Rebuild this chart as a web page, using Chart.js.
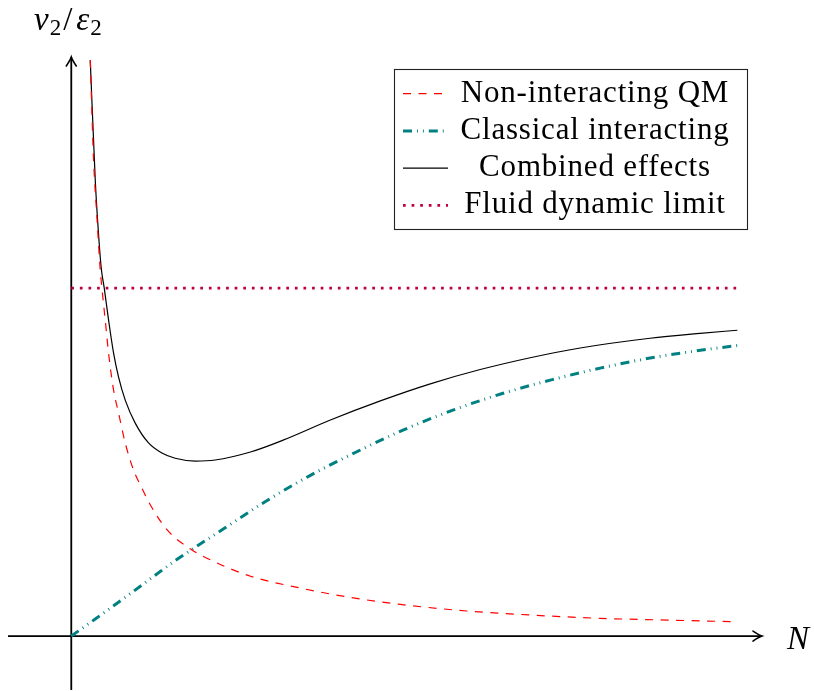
<!DOCTYPE html>
<html>
<head>
<meta charset="utf-8">
<script src="https://cdn.jsdelivr.net/npm/chart.js@4.4.1/dist/chart.umd.min.js"></script>
<style>
html,body{margin:0;padding:0;background:#fff;}
#wrap{width:814px;height:691px;position:relative;}
</style>
</head>
<body>
<div id="wrap"><canvas id="chart"></canvas></div>
<script>
/* =========================
   DATA
========================= */

// non-interacting QM (falls off roughly like 1/N)
const qmN = [0.285, 0.335, 0.385, 0.435, 0.46, 0.51, 0.56, 0.635, 0.71, 0.81, 0.935, 1.06, 1.19, 1.44, 1.79, 2.19, 2.69, 3.44, 4.19, 4.94, 5.94, 6.94, 7.94, 8.94, 10];
const qmV = [1.655, 1.368, 1.204, 1.052, 1.0, 0.908, 0.813, 0.707, 0.641, 0.555, 0.477, 0.425, 0.376, 0.305, 0.250, 0.210, 0.172, 0.138, 0.111, 0.091, 0.072, 0.060, 0.051, 0.046, 0.041];

// classical interacting (rises from 0, saturates)
const clN = [0, 0.36, 0.93, 1.6, 2.27, 2.91, 3.59, 4.29, 4.98, 5.74, 6.47, 7.22, 7.94, 8.69, 9.47, 10];
const clV = [0, 0.049, 0.128, 0.222, 0.306, 0.386, 0.462, 0.530, 0.592, 0.650, 0.697, 0.737, 0.770, 0.799, 0.822, 0.835];

// combined effects
const combN = [0.285, 0.36, 0.405, 0.45, 0.495, 0.56, 0.635, 0.71, 0.81, 0.96, 1.16, 1.36, 1.56, 1.86, 2.16, 2.69, 3.18, 3.89, 4.64, 5.39, 6.14, 6.89, 7.64, 8.69, 9.44, 10];
const combV = [1.655, 1.310, 1.167, 1.057, 1.0, 0.908, 0.813, 0.744, 0.678, 0.612, 0.555, 0.526, 0.511, 0.503, 0.506, 0.529, 0.563, 0.621, 0.676, 0.725, 0.766, 0.800, 0.828, 0.856, 0.870, 0.879];

// fluid dynamic limit
const fluidN = [0, 10];
const fluidV = [1, 1];

const labels = ["Non-interacting QM", "Classical interacting", "Combined effects", "Fluid dynamic limit"];

const pts = (xs, ys) => xs.map((x, i) => ({x: x, y: ys[i]}));

const SERIF = "'Liberation Serif', 'DejaVu Serif', serif";

/* =========================
   AXES WITH ARROWS
========================= */

const arrowAxes = {
  id: 'arrowAxes',
  beforeDatasetsDraw(chart) {
    const {ctx, chartArea: a, scales: {x, y}} = chart;
    const x0 = x.getPixelForValue(0);
    const y0 = y.getPixelForValue(0);
    ctx.save();
    ctx.strokeStyle = '#000';
    ctx.lineWidth = 1.8;
    ctx.lineCap = 'butt';
    ctx.beginPath();
    ctx.moveTo(a.left, y0);
    ctx.lineTo(a.right - 2, y0);
    ctx.moveTo(x0, a.bottom);
    ctx.lineTo(x0, a.top + 2);
    ctx.stroke();

    // arrow heads
    ctx.lineWidth = 1.6;
    ctx.lineCap = 'round';
    const tx = a.right - 2;
    ctx.beginPath();
    ctx.moveTo(tx - 9, y0 - 5);
    ctx.quadraticCurveTo(tx - 3, y0 - 1, tx, y0);
    ctx.quadraticCurveTo(tx - 3, y0 + 1, tx - 9, y0 + 5);
    const ty = a.top + 2;
    ctx.moveTo(x0 - 5, ty + 9);
    ctx.quadraticCurveTo(x0 - 1, ty + 3, x0, ty);
    ctx.quadraticCurveTo(x0 + 1, ty + 3, x0 + 5, ty + 9);
    ctx.stroke();

    // axis labels
    ctx.fillStyle = '#000';
    ctx.textBaseline = 'alphabetic';
    ctx.textAlign = 'left';
    ctx.font = 'italic 33px ' + SERIF;
    ctx.fillText('N', 787, 649);

    let cx = 34;
    const base = 30;
    ctx.font = 'italic 33px ' + SERIF;
    ctx.fillText('v', cx, base);
    cx += ctx.measureText('v').width + 1;
    ctx.font = '23px ' + SERIF;
    ctx.fillText('2', cx, base + 5);
    cx += ctx.measureText('2').width + 2;
    ctx.font = '33px ' + SERIF;
    ctx.fillText('/', cx, base);
    cx += ctx.measureText('/').width + 4;
    ctx.font = 'italic 33px ' + SERIF;
    ctx.fillText('\u03b5', cx, base);
    cx += ctx.measureText('\u03b5').width + 1;
    ctx.font = '23px ' + SERIF;
    ctx.fillText('2', cx, base + 5);
    ctx.restore();
  }
};

/* =========================
   LEGEND BOX
========================= */

const legendBox = {
  id: 'legendBox',
  afterDatasetsDraw(chart) {
    const ctx = chart.ctx;
    ctx.save();
    ctx.fillStyle = '#fff';
    ctx.fillRect(394.5, 69.5, 353, 160);
    ctx.strokeStyle = '#222';
    ctx.lineWidth = 1.1;
    ctx.strokeRect(394.5, 69.5, 353, 160);

    ctx.font = '31px ' + SERIF;
    ctx.textAlign = 'center';
    ctx.textBaseline = 'alphabetic';
    if ('letterSpacing' in ctx) ctx.letterSpacing = '0.8px';

    chart.data.datasets.forEach((ds, i) => {
      const base = 101.7 + i * 37.2;
      const ly = base - 8;
      ctx.save();
      ctx.strokeStyle = ds.borderColor;
      ctx.lineWidth = ds.borderWidth;
      ctx.setLineDash(ds.borderDash || []);
      ctx.lineCap = 'butt';
      ctx.beginPath();
      ctx.moveTo(403, ly);
      ctx.lineTo(448, ly);
      ctx.stroke();
      ctx.restore();
      ctx.fillStyle = '#000';
      ctx.fillText(ds.label, 595, base);
    });
    ctx.restore();
  }
};

/* =========================
   CHART
========================= */

new Chart(document.getElementById("chart"), {
  type: "line",
  data: {
    datasets: [{
      label: labels[0],
      data: pts(qmN, qmV),
      borderColor: "#ff0000",
      borderWidth: 1.2,
      borderDash: [8, 7.5]
    }, {
      label: labels[1],
      data: pts(clN, clV),
      borderColor: "#008080",
      borderWidth: 3,
      borderDash: [9, 5, 0.9, 5, 0.9, 5]
    }, {
      label: labels[2],
      data: pts(combN, combV),
      borderColor: "#000000",
      borderWidth: 1.2
    }, {
      label: labels[3],
      data: pts(fluidN, fluidV),
      borderColor: "#bf0040",
      borderWidth: 2.7,
      borderDash: [2.7, 5.9]
    }]
  },
  options: {
    responsive: true,
    maintainAspectRatio: false,
    animation: false,
    devicePixelRatio: 1,
    layout: { padding: { left: 8, right: 50, top: 55, bottom: 1 } },
    elements: {
      point: { radius: 0 },
      line: { cubicInterpolationMode: 'monotone', fill: false }
    },
    scales: {
      x: { type: 'linear', min: -0.95, max: 10.4, display: false },
      y: { type: 'linear', min: -0.155, max: 1.67, display: false }
    },
    plugins: {
      legend: { display: false },
      tooltip: { enabled: false }
    }
  },
  plugins: [arrowAxes, legendBox]
});
</script>
</body>
</html>
